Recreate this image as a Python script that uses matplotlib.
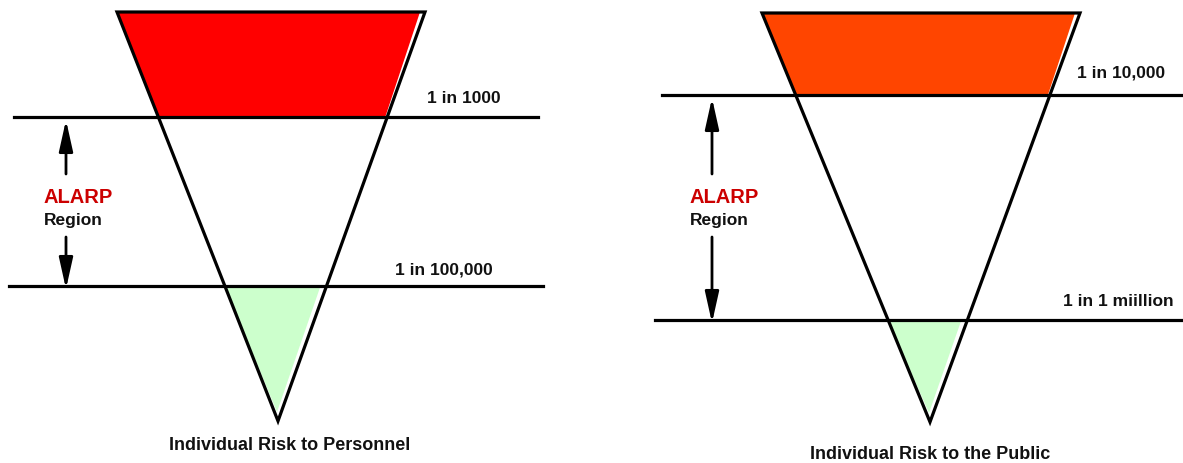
import matplotlib
matplotlib.use("Agg")
import matplotlib.pyplot as plt
from matplotlib.patches import Polygon

plt.rcParams['font.family'] = ['Liberation Sans', 'DejaVu Sans']

# Panel data (diagram coordinates in pixel units of the reference)
titles = ["Individual Risk to Personnel", "Individual Risk to the Public"]
upper_labels = ["1 in 1000", "1 in 10,000"]
lower_labels = ["1 in 100,000", "1 in 1 miillion"]
fill_top_colors = ["#FF0000", "#FF4500"]
fill_bottom_color = "#CCFFCC"

# triangle outlines: top-left, top-right, apex
tri_top_y = [13, 14]
tri_top_left = [117, 762]
tri_top_right = [425, 1080]
tri_apex = [(278, 422), (930, 423)]
# thresholds
upper_y = [118, 96]
lower_y = [287, 321]
upper_line_x = [(14, 538), (662, 1183)]
lower_line_x = [(9, 543), (655, 1183)]
arrow_x = [66, 712]
label_x = [44, 690]
upper_label_pos = [(427, 103), (1077, 78)]
lower_label_pos = [(395, 275), (1063, 306)]
title_pos = [(290, 446), (930, 455)]

fig = plt.figure(figsize=(11.83, 4.64), dpi=100)
ax = fig.add_axes([0, 0, 1, 1])
ax.set_xlim(0, 1183)
ax.set_ylim(464, 0)
ax.axis('off')


def edge_x(y, x_top, y_top, apex):
    ax_, ay_ = apex
    return x_top + (y - y_top) / (ay_ - y_top) * (ax_ - x_top)


arrow_style = '-|>,head_length=1.35,head_width=0.3'

for i in range(2):
    yt = tri_top_y[i]
    xl, xr = tri_top_left[i], tri_top_right[i]
    apex = tri_apex[i]
    uy, ly = upper_y[i], lower_y[i]
    gap = 6
    # red fill (slightly offset left of right edge)
    red = [(xl, yt), (xr - 5, yt),
           (edge_x(uy, xr, yt, apex) - 2, uy),
           (edge_x(uy, xl, yt, apex), uy)]
    ax.add_patch(Polygon(red, closed=True, facecolor=fill_top_colors[i],
                         edgecolor='none', zorder=1))
    green = [(edge_x(ly, xl, yt, apex), ly),
             (edge_x(ly, xr, yt, apex) - gap, ly),
             (apex[0] - 1, apex[1] - 9)]
    ax.add_patch(Polygon(green, closed=True, facecolor=fill_bottom_color,
                         edgecolor='none', zorder=1))
    # outline
    ax.add_patch(Polygon([(xl, yt), (xr, yt), apex], closed=True,
                         facecolor='none', edgecolor='black', lw=2.3,
                         joinstyle='miter', zorder=3))
    # threshold lines
    ax.plot(upper_line_x[i], [uy, uy], color='black', lw=2.3, zorder=2)
    ax.plot(lower_line_x[i], [ly, ly], color='black', lw=2.3, zorder=2)
    # labels
    ax.text(*upper_label_pos[i], upper_labels[i], fontsize=12.5, fontweight='bold',
            ha='left', va='baseline', color='#111111')
    ax.text(*lower_label_pos[i], lower_labels[i], fontsize=12.5, fontweight='bold',
            ha='left', va='baseline', color='#111111')
    # arrows
    ax.annotate('', xy=(arrow_x[i], uy + 3), xytext=(arrow_x[i], 175),
                arrowprops=dict(arrowstyle=arrow_style, color='black', lw=2,
                                mutation_scale=14, shrinkA=0, shrinkB=0))
    ax.annotate('', xy=(arrow_x[i], ly + 3), xytext=(arrow_x[i], 238),
                arrowprops=dict(arrowstyle=arrow_style, color='black', lw=2,
                                mutation_scale=14, shrinkA=0, shrinkB=0))
    ax.text(label_x[i], 203, "ALARP", color='#CC0000', fontsize=14.5,
            fontweight='bold', ha='left', va='baseline')
    ax.text(label_x[i], 225, "Region", color='#111111', fontsize=12.5,
            fontweight='bold', ha='left', va='baseline')
    ax.text(*title_pos[i], titles[i], fontsize=13, fontweight='bold',
            ha='center', va='center', color='#111111')

fig.savefig('out.png', dpi=100)
